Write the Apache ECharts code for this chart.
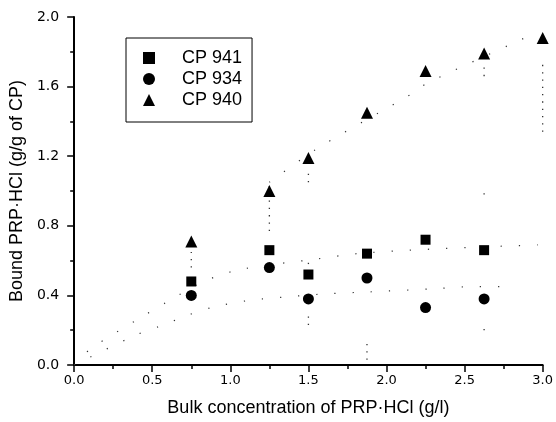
<!DOCTYPE html>
<html>
<head>
<meta charset="utf-8">
<script src="https://cdn.jsdelivr.net/npm/echarts@6/dist/echarts.min.js"></script>
<style>html,body{margin:0;padding:0;background:#fff;}#c{width:556px;height:422px;}</style>
</head>
<body>
<div id="c"></div>
<script>
var seriesNames = ['CP 941', 'CP 934', 'CP 940'];
var xConc = [0.75, 1.25, 1.5, 1.875, 2.25, 2.625, 3.0];
var cp941 = [0.48, 0.66, 0.52, 0.64, 0.72, 0.66, null];
var cp934 = [0.40, 0.56, 0.38, 0.50, 0.33, 0.38, null];
var cp940 = [0.71, 1.00, 1.19, 1.45, 1.69, 1.79, 1.88];
var fit941 = [[0,0],[0.105,0.093],[0.44,0.28],[0.59,0.36],[0.83,0.48],[1.07,0.55],[1.56,0.61],[1.81,0.64],[2.15,0.66],[2.66,0.68],[2.97,0.69]];
var fit934 = [[0,0],[0.39,0.17],[0.54,0.22],[0.74,0.29],[0.88,0.33],[1.11,0.37],[1.34,0.39],[1.63,0.41],[1.88,0.42],[2.34,0.44],[2.54,0.45],[2.83,0.45]];
var fit940 = [[1.25,1.05],[1.55,1.24],[1.97,1.46],[2.07,1.51],[2.20,1.58],[2.26,1.62],[2.96,1.91]];
var errBars = [[0.75,0.56,0.65],[1.25,0.77,1.05],[1.5,1.05,1.11],[1.5,0.58,0.62],[1.5,0.23,0.28],[1.875,0.03,0.13],[2.625,1.66,1.72],[2.625,0.98,1.0],[2.625,0.20,0.22],[3.0,1.34,1.75]];
var xTicks = {min: 0, max: 3, interval: 0.5};
var yTicks = {min: 0, max: 2, interval: 0.4};

function pairs(xs, ys){ var o=[]; for (var i=0;i<xs.length;i++){ if (ys[i]!=null) o.push([xs[i], ys[i]]); } return o; }

var chart = echarts.init(document.getElementById('c'), null, {renderer:'canvas'});
var font = 'Liberation Sans, Arial, sans-serif';
var dotted = {color:'#333', width:1.2, type:[1.2, 17]};
chart.setOption({
  backgroundColor:'#fff',
  animation:false,
  grid:{left:71, right:10, top:17, bottom:55, containLabel:false},
  legend:{
    left:126, top:38, orient:'vertical',
    data: seriesNames,
    itemWidth:12, itemHeight:12, itemGap:3,
    padding:[11, 10, 13, 17],
    borderColor:'#000', borderWidth:1,
    textStyle:{fontFamily:font, fontSize:18, color:'#000', padding:[0,0,0,22]}
  },
  xAxis:{
    type:'value', min:xTicks.min, max:xTicks.max, interval:xTicks.interval,
    name:'Bulk concentration of PRP\u00b7HCl (g/l)', nameLocation:'middle', nameGap:34,
    nameTextStyle:{fontFamily:font, fontSize:18, color:'#000'},
    axisLine:{show:true, onZero:false, lineStyle:{color:'#000', width:2}},
    axisTick:{show:true, inside:false, length:7, lineStyle:{color:'#000', width:1.5}},
    minorTick:{show:true, splitNumber:2, length:4, lineStyle:{color:'#000', width:1.5}},
    splitLine:{show:false},
    axisLabel:{margin:9, fontFamily:'DejaVu Sans', fontSize:13, color:'#000', formatter:function(v){return v.toFixed(1);}}
  },
  yAxis:{
    type:'value', min:yTicks.min, max:yTicks.max, interval:yTicks.interval,
    name:'Bound PRP\u00b7HCl (g/g of CP)', nameLocation:'middle', nameGap:42,
    nameTextStyle:{fontFamily:font, fontSize:18, color:'#000'},
    axisLine:{show:true, onZero:false, lineStyle:{color:'#000', width:2}},
    axisTick:{show:true, inside:false, length:7, lineStyle:{color:'#000', width:1.5}},
    minorTick:{show:true, splitNumber:2, length:4, lineStyle:{color:'#000', width:1.5}},
    splitLine:{show:false},
    axisLabel:{margin:15, fontFamily:'DejaVu Sans', fontSize:14, color:'#000', formatter:function(v){return v.toFixed(1);}}
  },
  series:[
    {type:'line', data:fit941, smooth:0.3, symbol:'none', lineStyle:dotted, silent:true, z:1},
    {type:'line', data:fit934, smooth:0.3, symbol:'none', lineStyle:dotted, silent:true, z:1},
    {type:'line', data:fit940, smooth:0.3, symbol:'none', lineStyle:dotted, silent:true, z:1},
    {type:'custom', data:errBars, silent:true, z:1,
      renderItem:function(params, api){
        var p1 = api.coord([api.value(0), api.value(1)]);
        var p2 = api.coord([api.value(0), api.value(2)]);
        return {type:'line', shape:{x1:p1[0], y1:p1[1], x2:p2[0], y2:p2[1]}, style:{stroke:'#333', lineWidth:1.3, lineDash:[1.3,6]}};
      }},
    {name:seriesNames[0], type:'scatter', data:pairs(xConc, cp941), symbol:'rect', symbolSize:10, itemStyle:{color:'#000', opacity:1}, z:3},
    {name:seriesNames[1], type:'scatter', data:pairs(xConc, cp934), symbol:'circle', symbolSize:11, itemStyle:{color:'#000', opacity:1}, z:3},
    {name:seriesNames[2], type:'scatter', data:pairs(xConc, cp940), symbol:'triangle', symbolSize:12, itemStyle:{color:'#000', opacity:1}, z:3}
  ]
});
</script>
</body>
</html>
